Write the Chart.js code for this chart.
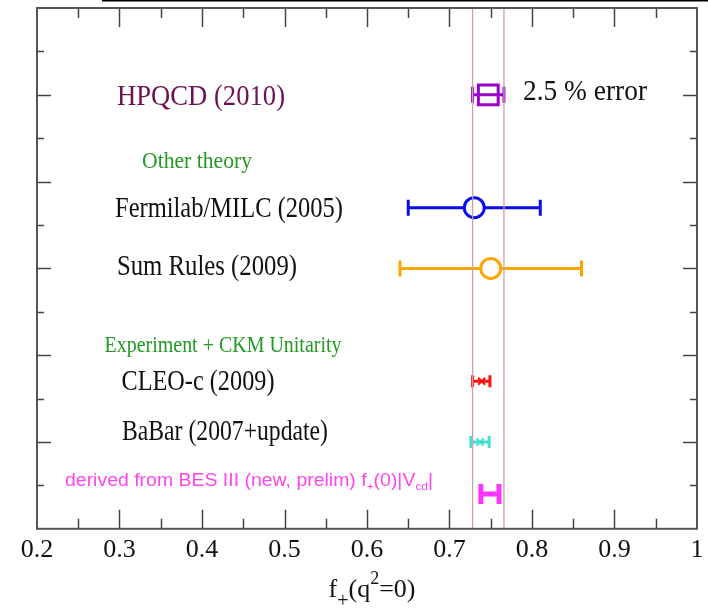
<!DOCTYPE html>
<html>
<head>
<meta charset="utf-8">
<script src="https://cdn.jsdelivr.net/npm/chart.js@4"></script>
<style>
  html, body { margin: 0; padding: 0; background: #fff; }
</style>
</head>
<body>
<canvas id="fplusChart" width="708" height="613"></canvas>
<script>
// measurements, top to bottom
const names = ['HPQCD (2010)', 'Fermilab/MILC (2005)', 'Sum Rules (2009)', 'CLEO-c (2009)', 'BaBar (2007+update)', 'BES III (new, prelim)'];
const rows = [5, 3.7, 3.0, 1.7, 1.0, 0.4];
const centers = [0.747, 0.73, 0.75, 0.739, 0.737, 0.749];
const errLow = [0.728, 0.65, 0.64, 0.728, 0.726, 0.738];
const errHigh = [0.766, 0.81, 0.86, 0.749, 0.748, 0.76];
const groups = ['Other theory', 'Experiment + CKM Unitarity'];
const hpqcdNote = '2.5 % error';
const tickLabels = ['0.2', '0.3', '0.4', '0.5', '0.6', '0.7', '0.8', '0.9', '1'];

// styles
const colors = ['#9900cc', '#0a0aee', '#ffa500', '#ff1010', '#40e0d0', '#ff33ff'];
const barStyle = [
  { w: 3, cap: 8 }, { w: 3, cap: 8 }, { w: 3, cap: 8 },
  { w: 3, cap: 6 }, { w: 3, cap: 6 }, { w: 5, cap: 10 }
];
const markerStyle = [
  { style: 'rect', r: 14, w: 3, fill: 'rgba(0,0,0,0)' },
  { style: 'circle', r: 10, w: 3, fill: '#fff' },
  { style: 'circle', r: 10, w: 3, fill: '#fff' },
  { style: 'crossRot', r: 5, w: 2, fill: 'rgba(0,0,0,0)' },
  { style: 'crossRot', r: 5, w: 2, fill: 'rgba(0,0,0,0)' },
  null
];
const SERIF = '"Liberation Serif", "Times New Roman", serif';
const SANS = '"Liberation Sans", Arial, sans-serif';

// text placement: x in px (centre), y in axis units (baseline)
const textLayout = [
  { pieces: [{ t: names[0], size: 30 }], x: 201, y: 4.883, width: 168, color: '#6e1152', font: SERIF },
  { pieces: [{ t: hpqcdNote, size: 30 }], x: 585, y: 4.94, width: 124, color: '#111', font: SERIF },
  { pieces: [{ t: groups[0], size: 24 }], x: 197, y: 4.158, width: 110, color: '#229922', font: SERIF },
  { pieces: [{ t: names[1], size: 30 }], x: 229, y: 3.593, width: 228, color: '#111', font: SERIF },
  { pieces: [{ t: names[2], size: 30 }], x: 207, y: 2.925, width: 180, color: '#111', font: SERIF },
  { pieces: [{ t: groups[1], size: 23 }], x: 223, y: 2.038, width: 237, color: '#229922', font: SERIF },
  { pieces: [{ t: names[3], size: 30 }], x: 198, y: 1.601, width: 153, color: '#111', font: SERIF },
  { pieces: [{ t: names[4], size: 30 }], x: 225, y: 1.025, width: 206, color: '#111', font: SERIF },
  {
    pieces: [
      { t: 'derived from ' + names[5] + ' f', size: 18 },
      { t: '+', size: 11, dy: 4 },
      { t: '(0)|V', size: 18 },
      { t: 'cd', size: 11, dy: 4 },
      { t: '|', size: 18 }
    ],
    x: 249, y: 0.495, width: 368, color: '#ff44f0', font: SANS
  }
];

const titlePieces = [
  { t: 'f', size: 26 },
  { t: '+', size: 20, dy: 10 },
  { t: '(q', size: 26 },
  { t: '2', size: 18, dy: -13 },
  { t: '=0)', size: 26 }
];

function drawPieces(ctx, pieces, cx, base, family, color, width) {
  let total = 0;
  pieces.forEach(p => {
    ctx.font = p.size + 'px ' + family;
    p.w = ctx.measureText(p.t).width;
    total += p.w;
  });
  const s = width ? width / total : 1;
  ctx.save();
  ctx.translate(cx - total * s / 2, base);
  ctx.scale(s, 1);
  ctx.fillStyle = color;
  ctx.textAlign = 'left';
  ctx.textBaseline = 'alphabetic';
  let x = 0;
  pieces.forEach(p => {
    ctx.font = p.size + 'px ' + family;
    ctx.fillText(p.t, x, p.dy || 0);
    x += p.w;
  });
  ctx.restore();
}

const datasets = [];

// HPQCD band edges
[errLow[0], errHigh[0]].forEach(v => {
  datasets.push({
    type: 'line',
    data: [{ x: v, y: 0 }, { x: v, y: 6 }],
    borderColor: '#c9a3a6',
    borderWidth: 1.3,
    pointRadius: 0,
    order: 0
  });
});

names.forEach((n, i) => {
  datasets.push({
    type: 'line',
    label: n,
    data: [{ x: errLow[i], y: rows[i] }, { x: errHigh[i], y: rows[i] }],
    borderColor: colors[i],
    borderWidth: barStyle[i].w,
    pointStyle: 'line',
    rotation: 90,
    pointRadius: barStyle[i].cap,
    pointBorderWidth: barStyle[i].w,
    pointBorderColor: colors[i],
    order: 2
  });
  const m = markerStyle[i];
  if (m) {
    datasets.push({
      type: 'scatter',
      data: [{ x: centers[i], y: rows[i] }],
      pointStyle: m.style,
      pointRadius: m.r,
      pointBorderWidth: m.w,
      pointBorderColor: colors[i],
      pointBackgroundColor: m.fill,
      order: 1
    });
  }
});

const decorations = {
  id: 'decorations',
  afterDraw(chart) {
    const { ctx, chartArea: a, scales: { x, y } } = chart;
    ctx.save();
    // clipped slide edge at top
    ctx.strokeStyle = '#000';
    ctx.lineWidth = 2;
    ctx.beginPath();
    ctx.moveTo(102, 0.5);
    ctx.lineTo(708, 0.5);
    ctx.stroke();

    ctx.strokeStyle = '#444';
    ctx.lineWidth = 1.5;
    x.ticks.forEach(t => {
      if (t.value <= 0.2001 || t.value >= 0.9999) return;
      const px = Math.round(x.getPixelForValue(t.value)) + 0.5;
      const major = Math.abs(t.value * 10 - Math.round(t.value * 10)) < 1e-6;
      const len = major ? 19 : 10;
      ctx.beginPath();
      ctx.moveTo(px, a.top); ctx.lineTo(px, a.top + len);
      ctx.moveTo(px, a.bottom); ctx.lineTo(px, a.bottom - len);
      ctx.stroke();
    });
    y.ticks.forEach(t => {
      if (t.value <= 0 || t.value >= 6) return;
      const py = Math.round(y.getPixelForValue(t.value)) + 0.5;
      const major = Number.isInteger(t.value);
      const len = major ? 14 : 7;
      ctx.beginPath();
      ctx.moveTo(a.left, py); ctx.lineTo(a.left + len, py);
      ctx.moveTo(a.right, py); ctx.lineTo(a.right - len, py);
      ctx.stroke();
    });

    ctx.strokeStyle = '#555';
    ctx.lineWidth = 2;
    ctx.strokeRect(a.left, a.top, a.right - a.left, a.bottom - a.top);

    textLayout.forEach(l => {
      drawPieces(ctx, l.pieces, l.x, y.getPixelForValue(l.y), l.font, l.color, l.width);
    });
    drawPieces(ctx, titlePieces, 372, 597, SERIF, '#111', null);
    ctx.restore();
  }
};

new Chart(document.getElementById('fplusChart'), {
  data: { datasets },
  options: {
    responsive: false,
    animation: false,
    events: [],
    layout: { autoPadding: false, padding: { left: 37, right: 11, top: 8, bottom: 41 } },
    plugins: { legend: { display: false }, tooltip: { enabled: false } },
    scales: {
      x: {
        type: 'linear',
        min: 0.2,
        max: 1.0,
        grid: { display: false, drawTicks: false },
        border: { display: false },
        afterFit: s => { s.paddingLeft = 0; s.paddingRight = 0; },
        ticks: {
          stepSize: 0.05,
          maxTicksLimit: 100,
          autoSkip: false,
          maxRotation: 0,
          padding: 6,
          color: '#111',
          font: { family: SERIF, size: 26 },
          callback: v => {
            const k = Math.round((v - 0.2) * 10);
            return Math.abs(v - (0.2 + k * 0.1)) < 1e-6 ? tickLabels[k] : '';
          }
        }
      },
      y: {
        type: 'linear',
        display: false,
        min: 0,
        max: 6,
        ticks: { stepSize: 0.5, maxTicksLimit: 100 }
      }
    }
  },
  plugins: [decorations]
});
</script>
</body>
</html>
